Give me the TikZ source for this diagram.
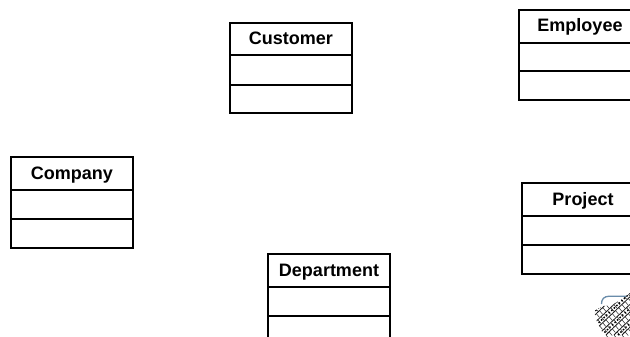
\documentclass[tikz,border=0pt]{standalone}
\usepackage{fontspec}
\setmainfont{Liberation Sans}
\definecolor{logoblue}{RGB}{105,140,170}
\tikzset{
  x=1pt,y=-1pt,
  part/.style={draw=black,line width=1.5pt,fill=white,anchor=north west,minimum width=122pt,inner sep=0pt,outer sep=0pt},
  title/.style={part,font=\fontsize{18}{20}\selectfont\bfseries,text height=13pt,text depth=2pt},
  logo/.style={line width=0.55pt,black!80},
}
% #1 name, #2 text, #3 x, #4 y0, #5 h1, #6 h2, #7 h3
\newcommand{\umlclass}[7]{%
  \node[title,minimum height=#5pt] (#1t) at (#3,#4) {#2};
  \node[part,minimum height=#6pt] (#1a) at (#1t.south west) {};
  \node[part,minimum height=#7pt] (#1o) at (#1a.south west) {};
}
\begin{document}
\begin{tikzpicture}
\useasboundingbox (0,0) rectangle (630,337);
\clip (0,0) rectangle (630,337);
\fill[white] (0,0) rectangle (630,337);
\umlclass{cust}{Customer}{230}{23}{32}{30}{28}
\umlclass{emp}{Employee}{519}{10}{33}{28}{29}
\umlclass{comp}{Company}{11}{157}{33}{29}{29}
\umlclass{proj}{Project}{522}{183}{33}{29}{29}
\umlclass{dept}{Department}{268}{254}{33}{29}{40}
% logo
\draw[color=logoblue,line width=1.3pt] (601.5,304) .. controls (601.5,299) and (604,296.5) .. (609,296.2) -- (627,296.2);
\begin{scope}
\clip (594,311) -- (603,306) -- (612,305) -- (622,299) -- (630,293) -- (630,337) -- (606,337) -- (601,330) -- (597,322) -- cycle;
% feather bands, running up to the right
\foreach \o in {-24,-16,...,32}{
  \draw[line width=0.8pt,black!90] (590+\o,335) .. controls (600+\o,325) and (612+\o,314) .. (634+\o,293);
  \foreach \t in {0,3.2,...,46}{
    \draw[logo] (590+\o+\t,335-\t*0.95) -- ++(3,3.6);
  }
}
\foreach \o in {-20,-4,12,28}{
  \draw[line width=1.5pt,black,dash pattern=on 1.5pt off 2pt] (590+\o,335) .. controls (600+\o,325) and (612+\o,314) .. (634+\o,293);
}
\end{scope}
\end{tikzpicture}
\end{document}
